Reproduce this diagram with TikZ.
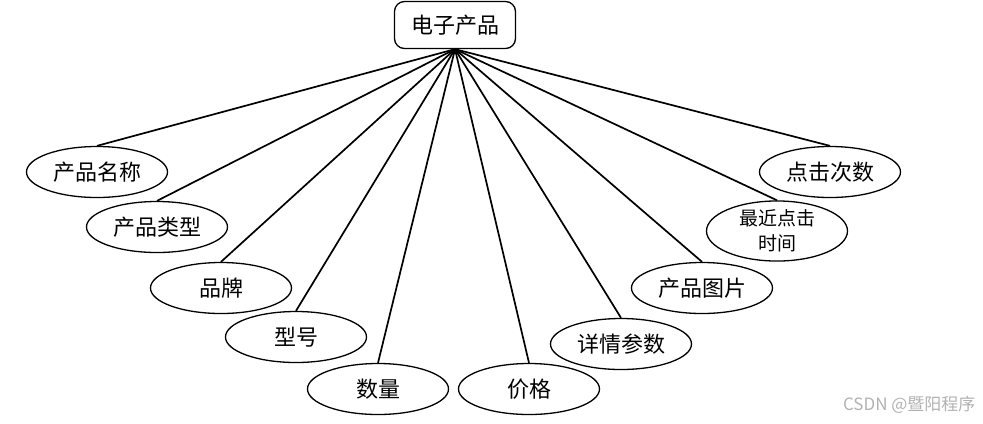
\documentclass[tikz,border=0pt]{standalone}
\usepackage{fontspec}
\setmainfont{Liberation Serif}
\newfontfamily\cjk{Noto Sans CJK SC}
\usetikzlibrary{shapes.geometric}
\begin{document}
\begin{tikzpicture}[x=1bp,y=-1bp,
  attr/.style={ellipse,draw,line width=1.3bp,minimum width=141bp,minimum height=51bp,inner sep=0pt,
    font=\cjk\fontsize{22bp}{24bp}\selectfont},
  ent/.style={rectangle,rounded corners=10bp,draw,line width=1.3bp,minimum width=121bp,minimum height=47bp,inner sep=0pt,
    font=\cjk\fontsize{22bp}{24bp}\selectfont},
  link/.style={line width=1.7bp}]
\useasboundingbox (0,0) rectangle (983,423);
\node[ent] (e) at (455,25) {电子产品};
\node[attr] (a1) at (97,172) {产品名称};
\node[attr] (a2) at (157,227) {产品类型};
\node[attr] (a3) at (221,288) {品牌};
\node[attr] (a4) at (296,337) {型号};
\node[attr] (a5) at (378,389) {数量};
\node[attr] (a6) at (529,389) {价格};
\node[attr] (a7) at (621,344) {详情参数};
\node[attr] (a8) at (702,288) {产品图片};
\node[attr,align=center,font=\cjk\fontsize{19bp}{25bp}\selectfont] (a9) at (777,231) {最近点击\\时间};
\node[attr] (a10) at (830,172) {点击次数};
\foreach \i in {1,...,10} {\draw[link] (e.south) -- (a\i.north);}
\node[text=black!30,font=\cjk\fontsize{17bp}{18bp}\selectfont,anchor=east] (wm) at (979,405) {CSDN @暨阳程序};
\end{tikzpicture}
\end{document}
